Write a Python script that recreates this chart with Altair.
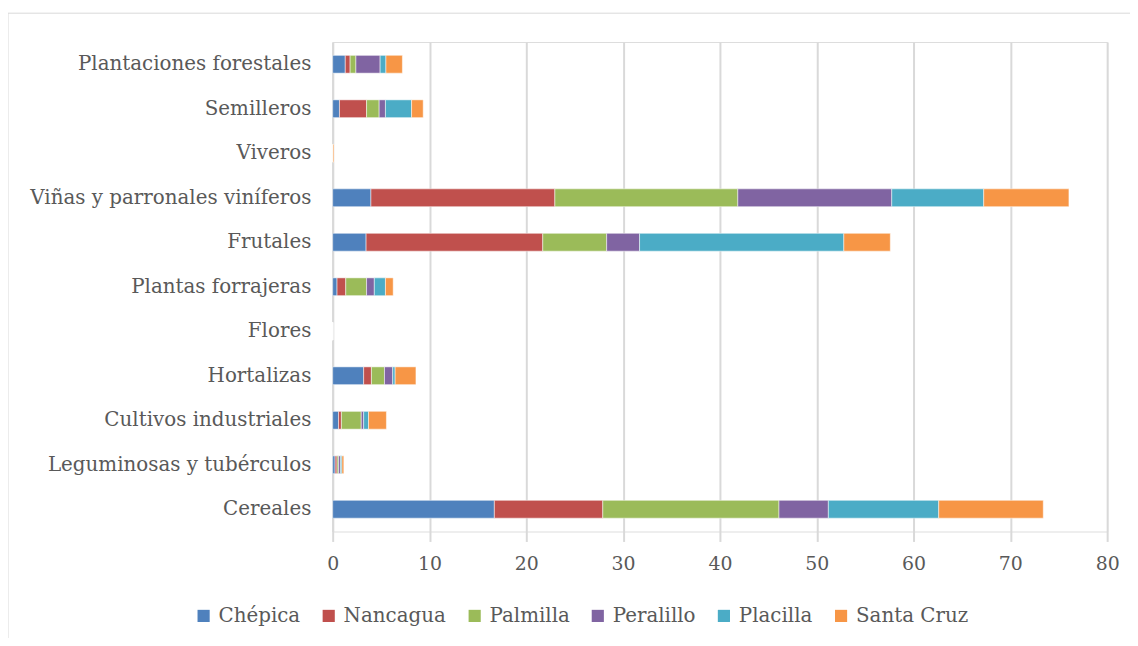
import altair as alt
import pandas as pd

categories = [
    "Plantaciones forestales", "Semilleros", "Viveros",
    "Viñas y parronales viníferos", "Frutales", "Plantas forrajeras",
    "Flores", "Hortalizas", "Cultivos industriales",
    "Leguminosas y tubérculos", "Cereales",
]
comunas = ["Chépica", "Nancagua", "Palmilla", "Peralillo", "Placilla", "Santa Cruz"]
colors = ["#4F81BD", "#C0504D", "#9BBB59", "#8064A2", "#4BACC6", "#F79646"]

chepica   = [1.3, 0.7, 0.0, 3.95, 3.45, 0.45, 0.0, 3.2, 0.6, 0.25, 16.7]
nancagua  = [0.5, 2.8, 0.0, 19.0, 18.25, 0.9, 0.0, 0.8, 0.3, 0.2, 11.2]
palmilla  = [0.6, 1.3, 0.03, 18.9, 6.6, 2.15, 0.0, 1.35, 2.05, 0.15, 18.2]
peralillo = [2.5, 0.65, 0.0, 15.9, 3.4, 0.8, 0.0, 0.85, 0.25, 0.2, 5.1]
placilla  = [0.6, 2.7, 0.0, 9.5, 21.1, 1.15, 0.0, 0.25, 0.5, 0.15, 11.4]
santacruz = [1.7, 1.2, 0.1, 8.8, 4.8, 0.8, 0.0, 2.15, 1.85, 0.2, 10.8]

series = [chepica, nancagua, palmilla, peralillo, placilla, santacruz]
rows = []
for i, (name, vals) in enumerate(zip(comunas, series)):
    for cat, v in zip(categories, vals):
        rows.append({"cat": cat, "comuna": name, "valor": v, "orden": i})
df = pd.DataFrame(rows)

FONT = "DejaVu Serif"
TXT = "#595959"
GRID = "#D9D9D9"

bars = alt.Chart(df).mark_bar(stroke="white", strokeWidth=0.5).encode(
    y=alt.Y("cat:N", sort=categories, title=None,
            scale=alt.Scale(paddingInner=0.6, paddingOuter=0.3),
            axis=alt.Axis(domain=True, domainColor=GRID, domainWidth=2,
                          ticks=False, labelPadding=22, labelFontSize=20,
                          labelFont=FONT, labelColor=TXT, grid=False,
                          labelLimit=400)),
    x=alt.X("valor:Q", stack="zero", title=None,
            scale=alt.Scale(domain=[0, 80], nice=False),
            axis=alt.Axis(values=list(range(0, 81, 10)), domain=False,
                          grid=True, gridColor=GRID, gridWidth=2,
                          ticks=True, tickColor=GRID, tickWidth=2, tickSize=10,
                          labelPadding=13, labelFontSize=19, labelFont=FONT,
                          labelColor=TXT, labelFlush=False)),
    color=alt.Color("comuna:N", sort=comunas,
                    scale=alt.Scale(domain=comunas, range=colors),
                    legend=alt.Legend(title=None, orient="none", direction="horizontal",
                                      columns=6, legendX=-140, legendY=568,
                                      symbolType="square", symbolSize=150,
                                      symbolStrokeWidth=0, labelFontSize=20,
                                      labelFont=FONT, labelColor=TXT,
                                      columnPadding=18, labelOffset=5)),
    order=alt.Order("orden:Q"),
)

frame = alt.Chart(alt.Data(values=[{"a": 1}])).mark_rect(
    filled=False, stroke=GRID, strokeWidth=1
).encode(x=alt.value(-327), x2=alt.value(900), y=alt.value(-29), y2=alt.value(700))

chart = alt.layer(frame, bars).properties(
    width=780, height=493,
    autosize=alt.AutoSizeParams(type="none"),
    padding={"left": 327, "top": 32, "right": 23, "bottom": 105},
).configure_view(stroke=None).configure(background="white")

chart.save("out.html", embed_options={"renderer": "svg", "actions": False})
